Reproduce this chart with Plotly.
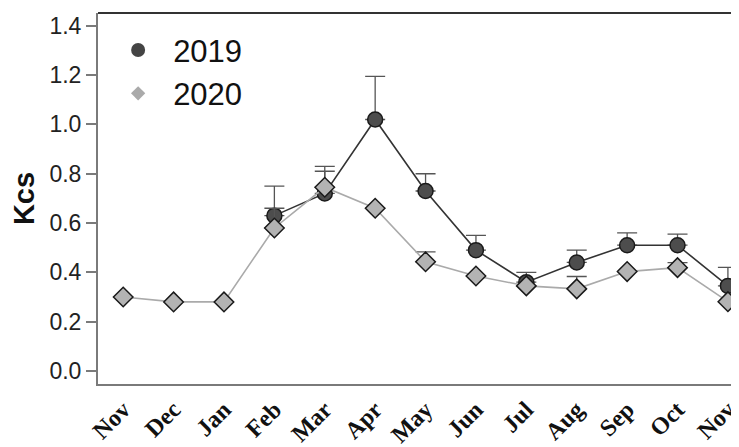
import plotly.graph_objects as go

months = ["Nov", "Dec", "Jan", "Feb", "Mar", "Apr", "May", "Jun", "Jul", "Aug", "Sep", "Oct", "Nov"]
kcs_2019 = [None, None, None, 0.63, 0.72, 1.02, 0.73, 0.49, 0.36, 0.44, 0.51, 0.51, 0.345]
err_2019 = [None, None, None, 0.12, 0.11, 0.175, 0.07, 0.06, 0.04, 0.05, 0.05, 0.045, 0.075]
kcs_2020 = [0.30, 0.28, 0.28, 0.58, 0.745, 0.66, 0.443, 0.385, 0.345, 0.333, 0.403, 0.419, 0.281]
err_2020 = [None, None, None, 0.08, 0.065, None, 0.04, None, None, 0.05, None, 0.02, None]
y_ticks = [0.0, 0.2, 0.4, 0.6, 0.8, 1.0, 1.2, 1.4]

xpos = list(range(len(months)))

fig = go.Figure()

fig.add_trace(go.Scatter(
    x=xpos, y=kcs_2019, mode="lines+markers", showlegend=False,
    line=dict(color="#333333", width=1.6),
    marker=dict(symbol="circle", size=15, color="#4d4d4d", line=dict(color="#1a1a1a", width=1.5)),
    error_y=dict(type="data", array=err_2019, arrayminus=[0 if e is not None else None for e in err_2019],
                 symmetric=False, color="#555555", thickness=1.3, width=10),
))
fig.add_trace(go.Scatter(
    x=xpos, y=kcs_2020, mode="lines+markers", showlegend=False,
    line=dict(color="#aaaaaa", width=1.6),
    marker=dict(symbol="diamond", size=15, color="#b3b3b3", line=dict(color="#1a1a1a", width=1.5)),
    error_y=dict(type="data", array=err_2020, arrayminus=[0 if e is not None else None for e in err_2020],
                 symmetric=False, color="#555555", thickness=1.3, width=10),
))

# legend entries
fig.add_trace(go.Scatter(x=[None], y=[None], mode="markers", name="2019",
                         marker=dict(symbol="circle", size=14, color="#444444")))
fig.add_trace(go.Scatter(x=[None], y=[None], mode="markers", name="2020",
                         marker=dict(symbol="diamond", size=11, color="#aaaaaa")))

fig.update_layout(
    width=731, height=439,
    margin=dict(l=90, r=0, t=5, b=63),
    paper_bgcolor="white", plot_bgcolor="white",
    font=dict(family="Liberation Sans, Arial, sans-serif", color="#222222"),
    showlegend=True,
    legend=dict(x=0.008, y=0.972, xanchor="left", yanchor="top",
                font=dict(size=31, color="#111111", family="Liberation Sans, Arial, sans-serif"),
                bgcolor="rgba(0,0,0,0)", itemsizing="trace", itemwidth=60, tracegroupgap=0),
    xaxis=dict(
        range=[-0.5, 12.22], tickmode="array", tickvals=xpos, ticktext=months,
        tickangle=-45, showgrid=False, zeroline=False,
        showline=True, linecolor="#7a7a7a", linewidth=2, ticks="",
        tickfont=dict(family="Liberation Serif, Times New Roman, serif", size=24, color="#111111", weight="bold"),
        ticklabeloverflow="allow",
        automargin=False,
    ),
    yaxis=dict(
        range=[-0.053, 1.452], tickmode="array", tickvals=y_ticks,
        ticktext=[f"{v:.1f}" for v in y_ticks],
        showgrid=False, zeroline=False,
        showline=True, linecolor="#7a7a7a", linewidth=2,
        ticks="outside", ticklen=10, tickwidth=1.5, tickcolor="#7a7a7a",
        tickfont=dict(size=23, color="#222222"),
        title=dict(text="<b>Kcs</b>", font=dict(size=29, color="#111111"), standoff=12),
        automargin=False,
    ),
    shapes=[dict(type="line", xref="paper", yref="paper", x0=0, x1=1, y0=1, y1=1,
                 line=dict(color="#333333", width=2))],
)

fig.write_html("out.html")
